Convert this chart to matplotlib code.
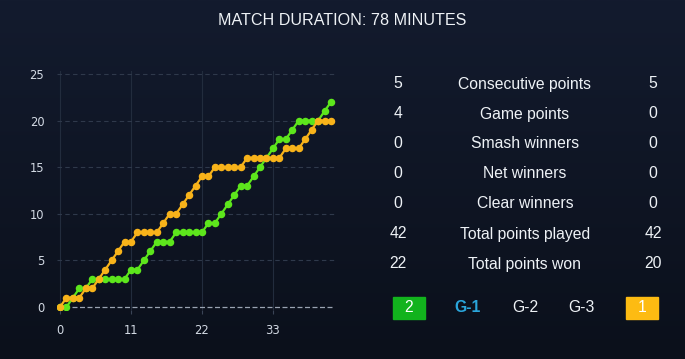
import numpy as np
import matplotlib.pyplot as plt
from matplotlib.patches import Rectangle

# cumulative score after each rally (index = point number)
green_score = [0, 0, 1, 2, 2, 3, 3, 3, 3, 3, 3, 4, 4, 5, 6, 7, 7, 7, 8, 8, 8,
               8, 8, 9, 9, 10, 11, 12, 13, 13, 14, 15, 16, 17, 18, 18, 19, 20,
               20, 20, 20, 21, 22]
orange_score = [0, 1, 1, 1, 2, 2, 3, 4, 5, 6, 7, 7, 8, 8, 8, 8, 9, 10, 10, 11,
                12, 13, 14, 14, 15, 15, 15, 15, 15, 16, 16, 16, 16, 16, 16, 17,
                17, 17, 18, 19, 20, 20, 20]

stat_labels = ["Consecutive points", "Game points", "Smash winners",
               "Net winners", "Clear winners", "Total points played",
               "Total points won"]
green_stats = ["5", "4", "0", "0", "0", "42", "22"]
orange_stats = ["5", "0", "0", "0", "0", "42", "20"]

games_won = ["2", "1"]
game_tabs = ["G-1", "G-2", "G-3"]

x_ticks = [0, 11, 22, 33]
y_ticks = [0, 5, 10, 15, 20, 25]

GREEN = '#5de61c'
ORANGE = '#f8b31a'
TXT = '#eef2f6'

fig = plt.figure(figsize=(6.85, 3.59), dpi=100)

# background gradient
bg = fig.add_axes([0, 0, 1, 1], zorder=-10)
grad = np.linspace(0, 1, 256).reshape(-1, 1)
top = np.array([0x13, 0x1b, 0x2e]) / 255
bot = np.array([0x0b, 0x10, 0x1b]) / 255
img = top + (bot - top) * grad[:, :, None]
bg.imshow(img, aspect='auto', extent=[0, 1, 0, 1])
bg.axis('off')

ax = fig.add_axes([0.0829, 0.137, 0.406, 0.665])
ax.patch.set_alpha(0)
x = np.arange(len(green_score))
ax.plot(x, green_score, color=GREEN, lw=1.6, marker='o', ms=4.4, zorder=3)
ax.plot(x, orange_score, color=ORANGE, lw=1.6, marker='o', ms=4.4, zorder=4)

ax.set_xlim(-0.5, 42.6)
ax.set_ylim(-0.3, 25.3)
ax.set_xticks(x_ticks)
ax.set_yticks(y_ticks)
for s in ax.spines.values():
    s.set_visible(False)
ax.tick_params(colors='#d3dae4', labelsize=8.3, length=3)
ax.tick_params(axis='x', color='#3a4456', pad=7)
ax.tick_params(axis='y', length=0, pad=9)
for t in x_ticks:
    ax.axvline(t, color='#222c3d', lw=0.8, zorder=1)
for t in y_ticks[1:]:
    ax.axhline(t, color='#2f394b', lw=0.8, ls=(0, (4, 3)), zorder=1)
ax.axhline(0, color='#9aa3b2', lw=0.9, ls=(0, (4, 2)), zorder=1)

fig.text(0.5, 0.944, "MATCH DURATION: 78 MINUTES", color=TXT,
         fontsize=11.6, family='Liberation Sans', ha='center', va='center')

for i, lab in enumerate(stat_labels):
    y = 1 - (84 + 30 * i) / 359
    fig.text(398 / 685, y, green_stats[i], color=TXT, fontsize=11.3,
             family='Liberation Sans', ha='center', va='center')
    fig.text(525 / 685, y, lab, color=TXT, fontsize=11.3,
             family='Liberation Sans', ha='center', va='center')
    fig.text(653 / 685, y, orange_stats[i], color=TXT, fontsize=11.3,
             family='Liberation Sans', ha='center', va='center')

yb = 1 - 308 / 359
fig.patches.append(Rectangle((393 / 685, 1 - 319 / 359), 32 / 685, 22 / 359,
                             transform=fig.transFigure, color='#12b31d'))
fig.patches.append(Rectangle((626 / 685, 1 - 319 / 359), 32 / 685, 22 / 359,
                             transform=fig.transFigure, color='#fdbb12'))
fig.text(409 / 685, yb, games_won[0], color='white', fontsize=11.3,
         family='Liberation Sans', ha='center', va='center')
fig.text(642 / 685, yb, games_won[1], color='white', fontsize=11.3,
         family='Liberation Sans', ha='center', va='center')
tab_x = [468, 525, 581]
for i, g in enumerate(game_tabs):
    fig.text(tab_x[i] / 685, yb, g, fontsize=11.3, family='Liberation Sans',
             ha='center', va='center',
             color='#2aa6dc' if i == 0 else TXT,
             weight='bold' if i == 0 else 'normal')

fig.savefig('out.png', dpi=100)
